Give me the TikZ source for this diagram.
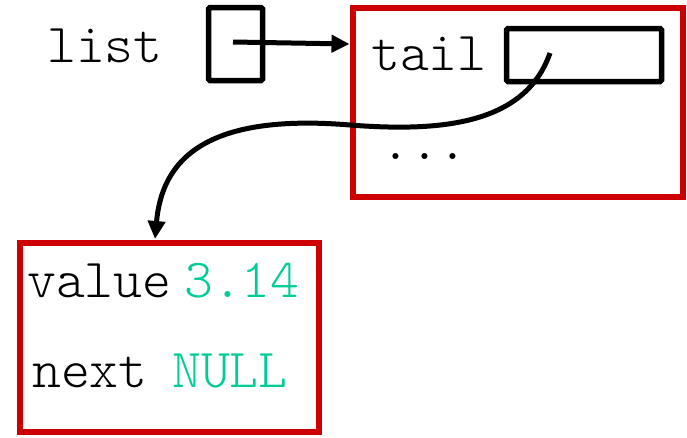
\documentclass[tikz,border=0pt]{standalone}
\usepackage{fontspec}
\setmonofont{Latin Modern Mono Light}
\usepackage{xcolor}
\usetikzlibrary{positioning,arrows.meta}
\definecolor{boxred}{RGB}{204,0,0}
\definecolor{valteal}{RGB}{0,204,150}

\begin{document}
\begin{tikzpicture}[x=1pt,y=-1pt,>={Triangle[length=18pt,width=17pt]},
    lbl/.style={anchor=base west,inner sep=0pt,font=\fontsize{55}{58}\selectfont\ttfamily},
    ptrbox/.style={draw,line width=5.5pt,rounded corners=1.5pt,inner sep=0pt},
    elem/.style={draw=boxred,line width=6pt,inner sep=0pt,minimum height=189pt}]
    \useasboundingbox (0,0) rectangle (687,437);

    % the pointer variable
    \node[lbl] (listname) at (47,62) {list};
    \node[ptrbox,minimum width=54pt,minimum height=73pt] (listptr) at (235.5,44) {};

    % first element
    \node[elem,minimum width=330pt] (first) at (517.5,102) {};
    \node[lbl] (tailname) at (371,70) {tail};
    \node[ptrbox,minimum width=155pt,minimum height=53pt] (tailptr) at (584,55) {};
    \node[lbl] (dots) at (381,159) {...};

    % last element
    \node[elem,minimum width=299pt] (last) at (169,337) {};
    \node[lbl] (valname) at (27,297) {value};
    \node[lbl,text=valteal] (val) at (184,297) {3.14};
    \node[lbl] (nextname) at (32,387) {next};
    \node[lbl,text=valteal] (nextval) at (172,387) {NULL};

    \coordinate (tailstart) at (550,53);
    \coordinate (lasttop) at (155,239);

    \draw[->,line width=5pt] (233,42) -- (first.west |- listptr.center);
    \draw[->,line width=5pt] (tailstart) .. controls (525,125) and (440,132) .. (350,125)
        .. controls (205,113) and (162,160) .. (lasttop);
\end{tikzpicture}
\end{document}
